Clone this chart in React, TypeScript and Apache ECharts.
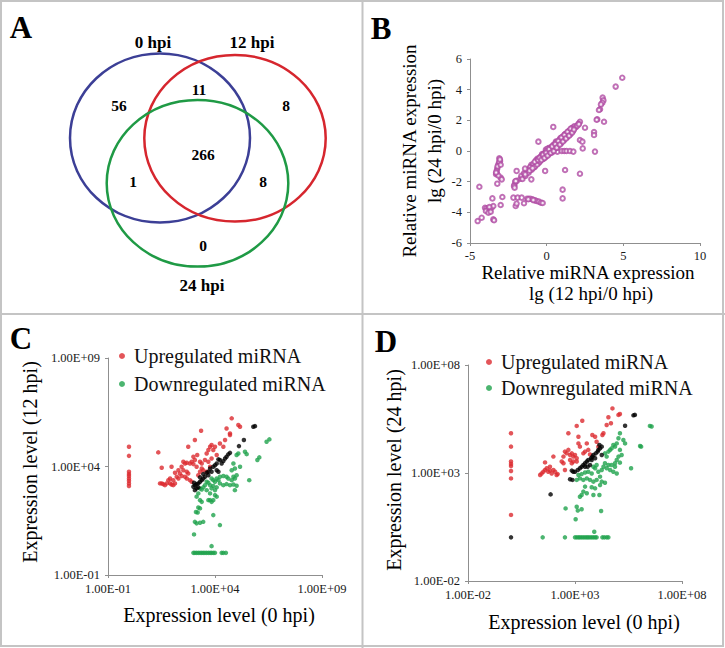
import React, { useEffect, useRef } from 'react';
import * as echarts from 'echarts';

const FONT = 'Liberation Serif';

// ---------- Panel A: Venn ----------
const vennSets = ['0 hpi', '12 hpi', '24 hpi'];
// regions: only 0, 0&12, only 12, all three, 0&24, 12&24, only 24
const vennCounts = [56, 11, 8, 266, 1, 8, 0];

// ---------- Panel B: lg ratios ----------
const bXTitle = ['Relative miRNA expression', 'lg (12 hpi/0 hpi)'];
const bYTitle = ['Relative miRNA expression', 'lg (24 hpi/0 hpi)'];
const bPoints = [
  [4.93, 4.78], [4.5, 4.2], [3.65, 3.48], [3.7, 3.3], [3.63, 3.15], [3.54, 3.04], [3.48, 2.72], [3.41, 2.67],
  [3.3, 2.07], [3.26, 2.04], [3.74, 1.91], [3.09, 1.24], [3.09, 1.04], [3.15, -0.04], [2.5, 1.52], [2.17, 1.91],
  [2.07, 1.78], [2.17, 0.72], [2.33, 0.61], [2.35, 0.17], [2.17, -1.48],
  [0.7, -0.04], [0.98, 0], [1.15, 0], [1.3, 0], [1.52, 0], [1.74, -0.04], [0.43, 1.57], [-0.54, 0.61],
  [1.2, -1.24], [1.04, -2.52], [1.04, -3.09],
  [-2.1, -2.2], [-2.05, -2.0], [-1.95, -1.95], [-1.7, -1.8], [-1.6, -1.72], [-1.5, -1.6], [-1.42, -1.55],
  [-1.35, -1.45], [-1.3, -1.38], [-1.2, -1.3], [-1.1, -1.25], [-1.05, -1.1], [-1.0, -1.15], [-0.9, -1.0],
  [-0.85, -0.95], [-0.8, -0.85], [-0.7, -0.9], [-0.65, -0.75], [-0.6, -0.7], [-0.55, -0.8], [-0.5, -0.62],
  [-0.45, -0.55], [-0.4, -0.6], [-0.35, -0.45], [-0.3, -0.5], [-0.25, -0.38], [-0.2, -0.3], [-0.15, -0.35],
  [-0.1, -0.22], [-0.05, -0.25], [0, -0.15], [0.05, -0.1], [0.1, -0.2], [0.15, -0.02], [0.2, 0], [0.25, 0.05],
  [0.3, -0.05], [0.35, 0.1], [0.4, 0.15], [0.45, 0.1], [0.5, 0.25], [0.55, 0.3], [0.6, 0.2], [0.65, 0.38],
  [0.7, 0.45], [0.75, 0.4], [0.8, 0.55], [0.85, 0.6], [0.9, 0.55], [0.95, 0.7], [1.0, 0.75], [1.05, 0.8],
  [1.1, 0.85], [1.15, 0.92], [1.2, 0.95], [1.25, 1.0], [1.3, 1.05], [1.35, 1.1], [1.4, 1.15], [1.45, 1.2],
  [1.5, 1.25], [1.55, 1.3], [1.6, 1.35], [1.7, 1.42], [1.8, 1.5], [-0.2, -0.5], [0.1, 0.1], [-0.6, -0.5],
  [-1.0, -0.9], [0.3, 0.25], [0.6, 0.5], [0.9, 0.85], [1.2, 1.1], [-0.3, -0.2], [0.0, 0.05], [-0.8, -1.05],
  [0.45, 0.35],
  [-1.55, -1.65], [-1.45, -1.5], [-1.25, -1.35], [-1.15, -1.2], [-0.95, -1.05], [-0.75, -0.8], [-0.68, -0.65],
  [-0.58, -0.6], [-0.48, -0.48], [-0.42, -0.4], [-0.38, -0.52], [-0.32, -0.35], [-0.28, -0.28], [-0.22, -0.42],
  [-0.18, -0.2], [-0.12, -0.12], [-0.08, -0.3], [-0.02, -0.05], [0.02, -0.2], [0.08, 0.02], [0.12, -0.08],
  [0.18, 0.08], [0.22, -0.1], [0.28, 0.12], [0.32, 0.18], [0.38, 0.05], [0.42, 0.28], [0.48, 0.2], [0.52, 0.38],
  [0.58, 0.35], [0.62, 0.45], [0.68, 0.3], [0.72, 0.55], [0.78, 0.5], [0.82, 0.65], [0.88, 0.7], [0.92, 0.62],
  [0.98, 0.82], [1.02, 0.68], [1.08, 0.95], [1.12, 0.78], [1.18, 1.02], [1.22, 0.88], [1.28, 1.12], [1.32, 0.98],
  [1.38, 1.2], [1.42, 1.08], [1.48, 1.3], [1.52, 1.18], [1.58, 1.4], [1.62, 1.28], [1.65, 1.45], [1.75, 1.55],
  [-0.5, -0.75], [-0.7, -0.6], [0.15, 0.2], [-0.05, 0.1], [0.35, -0.1], [0.6, 0.62], [0.05, 0.15],
  [-1.65, -1.62], [-1.58, -1.82], [-1.48, -1.45], [-1.38, -1.62], [-1.28, -1.25], [-1.18, -1.42], [-1.08, -1.05],
  [-0.98, -1.22], [-0.88, -0.85], [-0.78, -1.02], [-0.72, -0.72], [-0.62, -0.88], [-0.52, -0.52], [-0.44, -0.68],
  [-0.36, -0.35], [-0.26, -0.52], [-0.16, -0.18], [-0.06, -0.38], [0.04, 0.02], [0.14, -0.22], [0.24, 0.18],
  [0.34, -0.02], [0.44, 0.4], [0.54, 0.18], [0.64, 0.58], [0.74, 0.35], [0.84, 0.75], [0.94, 0.5], [1.04, 0.92],
  [1.14, 0.7], [1.24, 1.1], [1.34, 0.9], [1.44, 1.3], [1.54, 1.08], [1.64, 1.5], [1.72, 1.3], [1.82, 1.62],
  [1.9, 1.55], [-1.4, -1.52], [-1.12, -1.28], [-0.92, -1.12], [-0.78, -0.7], [-0.56, -0.58], [-0.46, -0.44],
  [-0.34, -0.58], [-0.24, -0.24], [-0.14, -0.45], [-0.04, -0.12], [0.06, -0.3], [0.16, 0.12], [0.26, -0.12],
  [0.36, 0.3], [0.46, 0.0], [0.56, 0.45], [0.66, 0.22], [0.76, 0.65], [0.86, 0.42], [0.96, 0.88], [1.06, 0.62],
  [1.16, 1.05], [1.26, 0.82], [1.36, 1.25], [1.46, 1.0], [1.56, 1.45], [1.66, 1.2], [1.78, 1.4], [2.0, 1.65],
  [2.1, 1.75],
  [-1.41, -1.15], [-1.96, -1.3], [-2.02, -1.96], [-2.13, -2.28], [-2.09, -2.39], [-0.1, -1.3], [-1.0, -1.85],
  [-3.09, -0.48], [-3.04, -0.65], [-3.15, -0.87], [-3.22, -1.13], [-3.26, -1.3], [-3.3, -1.52], [-3.0, -1.74],
  [-2.93, -1.85], [-3.22, -2.13], [-3.1, -0.7], [-3.2, -1.0], [-3.25, -1.45], [-3.05, -0.55], [-3.0, -0.9],
  [-3.15, -1.6], [-3.3, -1.4],
  [-2.89, -3.0], [-3.54, -3.09], [-3.0, -3.52],
  [-2.17, -3.04], [-1.89, -3.04], [-1.63, -3.04], [-1.26, -3.11], [-1.09, -3.11], [-0.93, -3.15], [-0.76, -3.22],
  [-0.65, -3.26], [-0.5, -3.3], [-0.37, -3.37], [-0.26, -3.39], [-1.2, -3.15], [-0.87, -3.2],
  [-2.02, -3.59], [-1.96, -3.43], [-1.48, -3.41],
  [-4.02, -3.7], [-3.91, -3.74], [-3.8, -3.8], [-3.7, -3.87], [-3.59, -3.7], [-3.48, -3.59], [-3.96, -3.91],
  [-3.8, -4.02], [-3.48, -4.46], [-3.43, -4.52], [-3.74, -3.65], [-3.65, -3.96],
  [-4.5, -4.57], [-4.24, -4.35], [-4.39, -2.33],
];

// ---------- Panels C & D: expression levels (log10 of level) ----------
const legendNames = ['Upregulated miRNA', 'Downregulated miRNA'];
const sameName = 'Unchanged miRNA';
const cXTitle = 'Expression level (0 hpi)';
const cYTitle = 'Expression level (12 hpi)';
const dXTitle = 'Expression level (0 hpi)';
const dYTitle = 'Expression level (24 hpi)';
const cTickExps = [-1, 4, 9];
const cTickLabels = ['1.00E-01', '1.00E+04', '1.00E+09'];
const dTickExps = [-2, 3, 8];
const dTickLabels = ['1.00E-02', '1.00E+03', '1.00E+08'];

const cUp = [
  [-0.02, 4.91], [-0.02, 4.49], [-0.02, 3.76], [-0.02, 3.65], [-0.02, 3.56], [-0.02, 3.45], [-0.02, 3.34],
  [-0.02, 3.22], [-0.02, 3.1],
  [1.35, 4.65], [1.51, 3.94], [1.51, 3.22], [1.43, 3.22], [1.58, 3.19], [1.66, 3.14], [1.74, 3.22], [1.9, 3.22],
  [1.97, 3.17], [2.05, 3.14], [2.13, 3.22], [1.97, 3.99], [2.75, 4.91], [3.06, 5.22], [3.35, 5.65], [3.17, 4.53],
  [2.52, 4.22], [2.6, 4.14], [2.68, 4.17], [2.83, 4.14], [2.91, 4.22], [2.99, 4.11], [2.44, 3.99], [2.52, 3.83],
  [2.68, 3.76], [2.75, 3.68], [2.36, 3.68], [2.44, 3.56], [2.6, 3.53], [2.68, 3.45], [2.83, 3.37], [2.91, 3.3],
  [2.29, 3.45], [2.21, 3.53], [2.05, 3.37], [1.9, 3.45], [1.82, 3.37], [2.13, 3.71], [2.29, 3.83], [3.14, 3.99],
  [3.22, 3.6], [3.3, 4.22], [3.38, 4.14], [3.53, 4.3], [3.61, 4.6], [3.69, 4.76], [3.77, 4.91], [3.84, 4.99],
  [3.92, 4.76], [4.0, 4.91], [4.08, 4.53], [3.84, 4.37], [3.69, 4.22], [3.77, 3.99], [3.61, 3.76], [3.45, 3.83],
  [3.38, 3.91], [3.3, 3.76], [3.06, 4.3], [2.99, 4.45], [4.23, 5.06], [4.47, 5.22], [4.54, 5.75], [4.7, 5.52],
  [4.78, 6.22], [5.09, 5.91], [5.17, 5.83], [4.7, 5.45], [4.39, 4.91],
];
const cDown = [
  [6.54, 5.25], [6.41, 5.14], [6.07, 4.42], [5.98, 4.3], [5.6, 3.37], [5.4, 4.68], [5.48, 4.57], [5.09, 4.6],
  [5.01, 4.53], [5.17, 3.99], [4.93, 3.91], [4.86, 4.14], [4.78, 3.83], [5.01, 3.6], [4.86, 3.53], [4.93, 3.45],
  [4.78, 3.37], [4.62, 3.45], [4.54, 3.53], [4.39, 3.56], [4.23, 3.53], [4.08, 3.45], [4.16, 3.37], [4.0, 3.3],
  [3.92, 3.37], [3.84, 3.45], [4.23, 3.22], [4.39, 3.14], [4.54, 3.19], [4.7, 3.14], [4.86, 3.17], [5.01, 3.11],
  [4.93, 2.91], [4.08, 3.04], [4.0, 2.91], [3.92, 3.1], [3.84, 2.99], [3.77, 3.14], [3.69, 3.25], [3.61, 3.3],
  [3.53, 3.14], [3.45, 3.04], [3.38, 2.94], [3.3, 2.99], [3.61, 2.91], [3.77, 2.76], [4.0, 2.68], [4.08, 2.61],
  [3.69, 2.45], [3.77, 2.45], [3.84, 2.37], [3.92, 2.45], [3.22, 2.76], [3.14, 2.61], [3.3, 2.45], [3.38, 2.37],
  [3.22, 2.11], [3.3, 2.07], [3.11, 1.9], [3.19, 1.88], [3.92, 1.76], [3.06, 1.45], [3.14, 1.38], [3.3, 1.41],
  [3.45, 1.45], [4.23, 1.3], [3.02, 0.87], [3.84, 0.33],
  [2.99, 0.02], [3.06, 0.02], [3.14, 0.02], [3.22, 0.02], [3.3, 0.02], [3.38, 0.02], [3.45, 0.02], [3.53, 0.02],
  [3.61, 0.02], [3.69, 0.02], [3.77, 0.02], [3.84, 0.02], [3.92, 0.02], [4.0, 0.02], [4.31, 0.02], [4.39, 0.02],
  [4.51, 0.02],
];
const cSame = [
  [5.79, 5.83], [5.87, 5.86], [5.35, 5.22], [5.12, 4.94], [4.7, 4.63], [4.62, 4.56], [4.54, 4.45], [4.47, 4.37],
  [4.39, 4.25], [4.23, 4.3], [4.16, 4.33], [4.31, 4.14], [4.08, 4.14], [4.0, 4.06], [3.92, 3.99], [3.77, 3.91],
  [3.69, 3.76], [3.61, 3.71], [3.69, 3.6], [3.53, 3.53], [3.45, 3.45], [3.38, 3.37], [3.3, 3.3], [3.22, 3.22],
  [3.14, 3.19], [3.06, 3.14], [2.99, 3.07], [3.14, 2.99], [3.06, 2.91], [3.22, 3.04], [3.02, 3.25], [3.3, 3.5],
  [3.45, 3.65], [3.84, 3.76], [4.08, 3.83], [4.16, 3.76],
];

const dUp = [
  [0.01, 4.84], [0.01, 4.22], [0.01, 3.53], [0.01, 3.42], [0.01, 3.32], [0.01, 3.09], [0.01, 2.75], [0.01, 1.06],
  [1.37, 2.91], [1.44, 2.98], [1.52, 3.06], [1.6, 3.14], [1.68, 3.22], [1.75, 3.06], [1.83, 3.11], [1.91, 2.98],
  [1.99, 3.14], [2.07, 3.06], [2.14, 2.91], [2.19, 2.95], [1.6, 3.49], [1.99, 3.76], [1.83, 3.29], [2.46, 3.76],
  [2.53, 3.99], [2.61, 3.91], [2.69, 4.07], [2.77, 3.83], [2.85, 3.91], [2.92, 3.76], [3.0, 3.83], [3.08, 3.68],
  [2.77, 3.6], [2.85, 3.45], [2.92, 3.53], [3.08, 3.53], [2.46, 3.45], [2.53, 3.14], [2.38, 3.53], [2.69, 4.84],
  [3.08, 5.18], [3.34, 5.42], [3.16, 4.68], [3.23, 4.22], [3.47, 3.99], [3.55, 4.37], [3.62, 4.07], [3.81, 4.76],
  [3.94, 4.68], [4.01, 4.45], [4.09, 4.22], [4.28, 4.76], [4.33, 4.84], [4.48, 5.22], [4.56, 5.58], [4.68, 5.3],
  [4.75, 5.99], [5.03, 5.69], [5.1, 5.73], [3.7, 3.86], [3.39, 3.91], [3.16, 4.37],
];
const dDown = [
  [6.58, 5.15], [6.5, 5.18], [6.04, 4.25], [6.09, 4.22], [5.62, 3.22], [5.1, 4.84], [5.03, 4.61], [5.26, 4.53],
  [5.34, 4.37], [4.95, 4.37], [4.87, 4.22], [4.79, 4.3], [4.71, 4.14], [4.64, 4.07], [4.56, 3.99], [4.4, 3.91],
  [4.48, 3.76], [5.1, 4.07], [5.18, 3.83], [5.03, 3.76], [4.95, 3.6], [5.1, 3.48], [4.87, 3.45], [4.71, 3.37],
  [4.56, 3.37], [4.4, 3.45], [4.33, 3.29], [4.48, 3.22], [4.64, 3.14], [4.79, 3.06], [4.95, 2.98], [4.87, 3.29],
  [4.25, 3.14], [4.09, 3.06], [3.94, 3.22], [3.86, 3.29], [4.01, 3.37], [3.78, 2.98], [3.62, 3.06], [3.47, 3.02],
  [3.31, 2.95], [3.16, 2.91], [3.08, 2.68], [3.23, 2.75], [3.39, 2.68], [3.55, 2.75], [3.7, 2.68], [3.86, 2.6],
  [4.01, 2.68], [4.17, 2.83], [4.25, 2.6], [4.4, 2.55], [4.17, 2.44], [3.94, 2.29], [3.78, 2.34], [3.47, 2.37],
  [3.39, 2.14], [3.31, 1.98], [3.23, 1.9], [3.55, 2.06], [3.86, 1.98], [4.14, 1.98], [2.56, 1.36], [3.08, 1.44],
  [3.13, 1.26], [3.31, 1.32], [3.03, 0.86], [4.22, 1.24], [3.9, 0.28], [1.49, 0.02], [2.53, 0.02],
  [3.0, 0.02], [3.08, 0.02], [3.16, 0.02], [3.23, 0.02], [3.31, 0.02], [3.39, 0.02], [3.47, 0.02], [3.55, 0.02],
  [3.62, 0.02], [3.7, 0.02], [3.78, 0.02], [3.86, 0.02], [3.94, 0.02], [4.01, 0.02], [4.28, 0.02], [4.37, 0.02],
  [4.48, 0.02], [4.56, 0.02],
];
const dSame = [
  [0.01, 0.02], [1.86, 2.01], [5.8, 5.69], [5.73, 5.67], [5.34, 5.19], [4.25, 4.22], [4.17, 4.14], [4.09, 4.07],
  [4.06, 3.99], [3.97, 3.91], [3.86, 3.83], [3.81, 3.76], [3.75, 3.68], [3.62, 3.6], [3.55, 3.53], [3.47, 3.45],
  [3.39, 3.37], [3.31, 3.29], [3.23, 3.22], [3.13, 3.14], [3.0, 3.06], [2.92, 3.06], [2.85, 3.11], [2.77, 2.71],
  [2.88, 2.68], [3.7, 3.37], [3.59, 3.29], [3.78, 3.6], [4.25, 3.83], [3.94, 3.68], [4.14, 4.3], [3.47, 3.29],
];

const RED = '#dc2b2f';
const GREEN = '#1fa34c';
const BLACK = '#000000';
const PURPLE = '#b04ca4';
const AXIS = '#8f8f8f';
const BORDER = '#c4c4c4';

function txt(x: number, y: number, text: string, size: number, opts: any = {}) {
  return {
    type: 'text',
    x,
    y,
    rotation: opts.rotation || 0,
    z: 10,
    style: {
      text,
      fill: '#000',
      fontFamily: FONT,
      fontSize: size,
      fontWeight: opts.bold ? 'bold' : 'normal',
      textAlign: 'center',
      align: 'center',
      textVerticalAlign: 'middle',
      verticalAlign: 'middle',
    },
  };
}

function logAxis(gridIndex: number, min: number, max: number, exps: number[], labels: string[], isX: boolean) {
  return {
    type: 'value',
    gridIndex,
    min,
    max,
    splitLine: { show: false },
    axisLine: { show: true, onZero: false, lineStyle: { color: AXIS, width: 1 } },
    axisTick: { show: true, length: 3, customValues: exps, lineStyle: { color: AXIS } },
    axisLabel: {
      show: true,
      customValues: exps,
      margin: isX ? 7 : 8,
      color: '#1a1a1a',
      fontFamily: FONT,
      fontSize: 12.5,
      formatter: (v: number) => {
        const i = exps.indexOf(Math.round(v));
        return i >= 0 ? labels[i] : '';
      },
    },
  };
}

export default function App() {
  const ref = useRef<HTMLDivElement>(null);
  useEffect(() => {
    if (!ref.current) return;
    const chart = echarts.init(ref.current, null, { renderer: 'svg' });

    const venn = [
      { cx: 160, cy: 138, rx: 90, ry: 84.5, color: '#3c3f96' },
      { cx: 235, cy: 138.3, rx: 90.7, ry: 83.3, color: '#d6262e' },
      { cx: 197.5, cy: 183.3, rx: 90.8, ry: 83.3, color: '#1f9a45' },
    ];
    const vennSetPos = [[153, 42], [252, 42], [202, 285]];
    const vennCountPos = [[119, 105], [199, 89], [286, 105], [203, 154], [133, 181], [263, 181], [203, 245]];

    const graphic: any[] = [
      { type: 'rect', z: 1, shape: { x: 1, y: 1, width: 722, height: 645 }, style: { fill: 'none', stroke: BORDER, lineWidth: 2 } },
      { type: 'line', z: 1, shape: { x1: 362.5, y1: 0, x2: 362.5, y2: 648 }, style: { stroke: BORDER, lineWidth: 2 } },
      { type: 'line', z: 1, shape: { x1: 0, y1: 314, x2: 725, y2: 314 }, style: { stroke: BORDER, lineWidth: 2 } },
      txt(21, 27, 'A', 31, { bold: true }),
      txt(381, 28, 'B', 31, { bold: true }),
      txt(21, 338, 'C', 31, { bold: true }),
      txt(386, 341, 'D', 31, { bold: true }),
    ];
    venn.forEach((e) => {
      graphic.push({
        type: 'ellipse',
        z: 5,
        shape: { cx: e.cx, cy: e.cy, rx: e.rx, ry: e.ry },
        style: { fill: 'none', stroke: e.color, lineWidth: 2.5 },
      });
    });
    vennSets.forEach((s, i) => graphic.push(txt(vennSetPos[i][0], vennSetPos[i][1], s, 17, { bold: true })));
    vennCounts.forEach((c, i) => graphic.push(txt(vennCountPos[i][0], vennCountPos[i][1], String(c), 15.5, { bold: true })));

    // axis titles
    graphic.push(txt(588, 272, bXTitle[0], 19));
    graphic.push(txt(591, 293, bXTitle[1], 19));
    graphic.push(txt(409, 151, bYTitle[0], 19, { rotation: Math.PI / 2 }));
    graphic.push(txt(434, 141, bYTitle[1], 19, { rotation: Math.PI / 2 }));
    graphic.push(txt(219, 615, cXTitle, 20));
    graphic.push(txt(30, 462, cYTitle, 20, { rotation: Math.PI / 2 }));
    graphic.push(txt(584, 622, dXTitle, 20));
    graphic.push(txt(394, 470, dYTitle, 20, { rotation: Math.PI / 2 }));

    const dotSeries = (name: string, color: string, data: number[][], idx: number) => ({
      type: 'scatter',
      name,
      xAxisIndex: idx,
      yAxisIndex: idx,
      data,
      symbol: 'circle',
      symbolSize: 4.5,
      itemStyle: { color },
      silent: true,
    });

    const legendText = { fontFamily: FONT, fontSize: 20, color: '#111', lineHeight: 20 };

    chart.setOption({
      animation: false,
      backgroundColor: '#ffffff',
      textStyle: { fontFamily: FONT },
      grid: [
        { left: 470, top: 59, width: 230, height: 184 },
        { left: 108, top: 358, width: 214, height: 217 },
        { left: 468, top: 365, width: 214, height: 216 },
      ],
      xAxis: [
        {
          type: 'value', gridIndex: 0, min: -5, max: 10, interval: 5,
          splitLine: { show: false },
          axisLine: { show: true, onZero: false, lineStyle: { color: AXIS } },
          axisTick: { show: true, length: 3, lineStyle: { color: AXIS } },
          axisLabel: { margin: 6, color: '#1a1a1a', fontFamily: FONT, fontSize: 12.5 },
        },
        logAxis(1, -1, 9, cTickExps, cTickLabels, true),
        logAxis(2, -2, 8, dTickExps, dTickLabels, true),
      ],
      yAxis: [
        {
          type: 'value', gridIndex: 0, min: -6, max: 6, interval: 2,
          splitLine: { show: false },
          axisLine: { show: true, onZero: false, lineStyle: { color: AXIS } },
          axisTick: { show: true, length: 3, lineStyle: { color: AXIS } },
          axisLabel: { margin: 8, color: '#1a1a1a', fontFamily: FONT, fontSize: 12.5 },
        },
        logAxis(1, -1, 9, cTickExps, cTickLabels, false),
        logAxis(2, -2, 8, dTickExps, dTickLabels, false),
      ],
      legend: [
        {
          data: legendNames, orient: 'vertical', left: 119, top: 346, icon: 'circle',
          itemWidth: 14, itemHeight: 6, itemGap: 8, padding: 0, selectedMode: false, textStyle: legendText,
        },
        {
          data: legendNames, orient: 'vertical', left: 486, top: 352, icon: 'circle',
          itemWidth: 14, itemHeight: 6, itemGap: 6, padding: 0, selectedMode: false, textStyle: legendText,
        },
      ],
      series: [
        {
          type: 'scatter', name: 'lg ratio', xAxisIndex: 0, yAxisIndex: 0, data: bPoints,
          symbol: 'emptyCircle', symbolSize: 4.5, itemStyle: { color: PURPLE, borderWidth: 0.9 }, silent: true,
        },
        dotSeries(legendNames[0], RED, cUp, 1),
        dotSeries(legendNames[1], GREEN, cDown, 1),
        dotSeries(sameName, BLACK, cSame, 1),
        dotSeries(legendNames[0], RED, dUp, 2),
        dotSeries(legendNames[1], GREEN, dDown, 2),
        dotSeries(sameName, BLACK, dSame, 2),
      ],
      graphic,
    });
    return () => chart.dispose();
  }, []);

  return (
    <div
      ref={ref}
      style={{ position: 'fixed', left: 0, top: 0, width: 725, height: 648, background: '#fff' }}
    />
  );
}
